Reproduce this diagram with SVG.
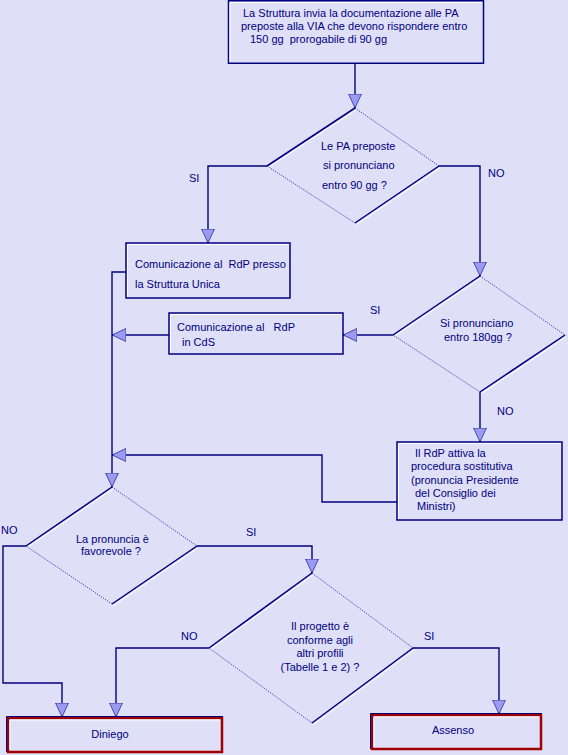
<svg xmlns="http://www.w3.org/2000/svg" width="568" height="755" viewBox="0 0 568 755">
<style>
.bg{fill:#DFDFF7}
.box{fill:#DFDFF7;stroke:#000080;stroke-width:1.5}
.hl{fill:none;stroke:#FFFFFF;stroke-width:1}
.end{fill:#DFDFF7;stroke:#A00000;stroke-width:2.5}
.endo{fill:none;stroke:#000080;stroke-width:1}
.dia{fill:#DFDFF7;stroke:#3030B0;stroke-width:0.9;stroke-dasharray:1.2 1.2}
.diaS{fill:none;stroke:#000080;stroke-width:1.5}
.diaH{fill:none;stroke:#FFFFFF;stroke-width:1}
.conn{fill:none;stroke:#000080;stroke-width:1.4}
.connH{fill:none;stroke:#FFFFFF;stroke-width:0.8}
.t{font-family:"Liberation Sans",Arial,sans-serif;font-size:11px;fill:#000080}
.c{text-anchor:middle}
</style>
<defs>
<marker id="ah" markerUnits="userSpaceOnUse" markerWidth="15" markerHeight="14" refX="14" refY="7" orient="auto">
<path d="M0,0.5 L14,7 L0,13.5 z" fill="#9A9AF2" stroke="#000080" stroke-width="0.6"/>
</marker>
</defs>
<rect class="bg" x="0" y="0" width="568" height="755"/>

<g id="connectors">
<path class="conn" d="M355,63 V108" marker-end="url(#ah)"/>
<path class="conn" d="M267,166 H208 V243" marker-end="url(#ah)"/>
<path class="conn" d="M439,166 H480 V276" marker-end="url(#ah)"/>
<path class="conn" d="M393,335 H343" marker-end="url(#ah)"/>
<path class="conn" d="M169,335 H112" marker-end="url(#ah)"/>
<path class="conn" d="M126,272 H112 V487" marker-end="url(#ah)"/>
<path class="conn" d="M480,392 V442" marker-end="url(#ah)"/>
<path class="conn" d="M397,502 H322 V455 H112" marker-end="url(#ah)"/>
<path class="conn" d="M26,546 H3 V683 H62 V717" marker-end="url(#ah)"/>
<path class="conn" d="M197,546 H312 V573" marker-end="url(#ah)"/>
<path class="conn" d="M209,648 H116 V717" marker-end="url(#ah)"/>
<path class="conn" d="M413,648 H499 V714" marker-end="url(#ah)"/>
<text class="t" x="189" y="182">SI</text>
<text class="t" x="488" y="177">NO</text>
<text class="t" x="370" y="314">SI</text>
<text class="t" x="497" y="415">NO</text>
<text class="t" x="1" y="534">NO</text>
<text class="t" x="246" y="536">SI</text>
<text class="t" x="181" y="640">NO</text>
<text class="t" x="424" y="640">SI</text>
</g>

<g id="start">
<rect class="box" x="228.5" y="0.75" width="255" height="62.5"/>
<path class="hl" d="M230,62 V2.5 H482"/>
<text class="t" x="243" y="17">La Struttura invia la documentazione alle PA</text>
<text class="t" x="241" y="30">preposte alla VIA che devono rispondere entro</text>
<text class="t" x="250" y="43" xml:space="preserve">150 gg  prorogabile di 90 gg</text>
</g>

<g id="dec1">
<polygon class="dia" points="355,108 439,166 355,223 267,166"/>
<path class="diaS" d="M355,108 L267,166 M439,166 L355,223"/>
<path class="diaH" d="M356,110 L269,167 M440,168 L356,225"/>
<text class="t" x="321" y="150">Le PA preposte</text>
<text class="t" x="323" y="169">si pronunciano</text>
<text class="t" x="322" y="189">entro 90 gg ?</text>
</g>

<g id="box-unica">
<rect class="box" x="126" y="243" width="164" height="55"/>
<path class="hl" d="M127.5,297 V244.5 H289"/>
<text class="t" x="135" y="268" xml:space="preserve">Comunicazione al  RdP presso</text>
<text class="t" x="135" y="288">la Struttura Unica</text>
</g>

<g id="dec2">
<polygon class="dia" points="480,276 565,335 480,392 393,335"/>
<path class="diaS" d="M480,276 L393,335 M565,335 L480,392"/>
<path class="diaH" d="M481,278 L395,336 M566,337 L481,394"/>
<text class="t" x="440" y="327">Si pronunciano</text>
<text class="t" x="444" y="341">entro 180gg ?</text>
</g>

<g id="box-cds">
<rect class="box" x="169" y="313" width="174" height="41"/>
<path class="hl" d="M170.5,353 V314.5 H342"/>
<text class="t" x="177" y="331" xml:space="preserve">Comunicazione al   RdP</text>
<text class="t" x="182" y="346">in CdS</text>
</g>

<g id="box-sostitutiva">
<rect class="box" x="397" y="442" width="165" height="78"/>
<path class="hl" d="M398.5,519 V443.5 H561"/>
<text class="t" x="415" y="457">Il RdP attiva la</text>
<text class="t" x="411" y="470">procedura sostitutiva</text>
<text class="t" x="411" y="484">(pronuncia Presidente</text>
<text class="t" x="415" y="497">del Consiglio dei</text>
<text class="t" x="417" y="510">Ministri)</text>
</g>

<g id="dec3">
<polygon class="dia" points="112,487 197,546 112,604 26,546"/>
<path class="diaS" d="M112,487 L26,546 M197,546 L112,604"/>
<path class="diaH" d="M113,489 L28,547 M198,548 L113,606"/>
<text class="t" x="76" y="543">La pronuncia è</text>
<text class="t" x="81" y="555">favorevole ?</text>
</g>

<g id="dec4">
<polygon class="dia" points="312,573 413,648 312,723 209,648"/>
<path class="diaS" d="M312,573 L209,648 M413,648 L312,723"/>
<path class="diaH" d="M313,575 L211,649 M414,650 L313,725"/>
<text class="t c" x="320" y="630">Il progetto è</text>
<text class="t c" x="320" y="644">conforme agli</text>
<text class="t c" x="320" y="657">altri profili</text>
<text class="t c" x="320" y="671">(Tabelle 1 e 2) ?</text>
</g>

<g id="diniego">
<rect class="end" x="8" y="718" width="214" height="34"/>
<path class="endo" d="M6.5,752 V716.5 H223"/>
<path class="hl" d="M10,750 V720 H220"/>
<text class="t c" x="110" y="738">Diniego</text>
</g>

<g id="assenso">
<rect class="end" x="372" y="715" width="169" height="34"/>
<path class="endo" d="M370.5,749 V713.5 H542"/>
<path class="hl" d="M374,747 V717 H539"/>
<text class="t c" x="453" y="734">Assenso</text>
</g>
</svg>
